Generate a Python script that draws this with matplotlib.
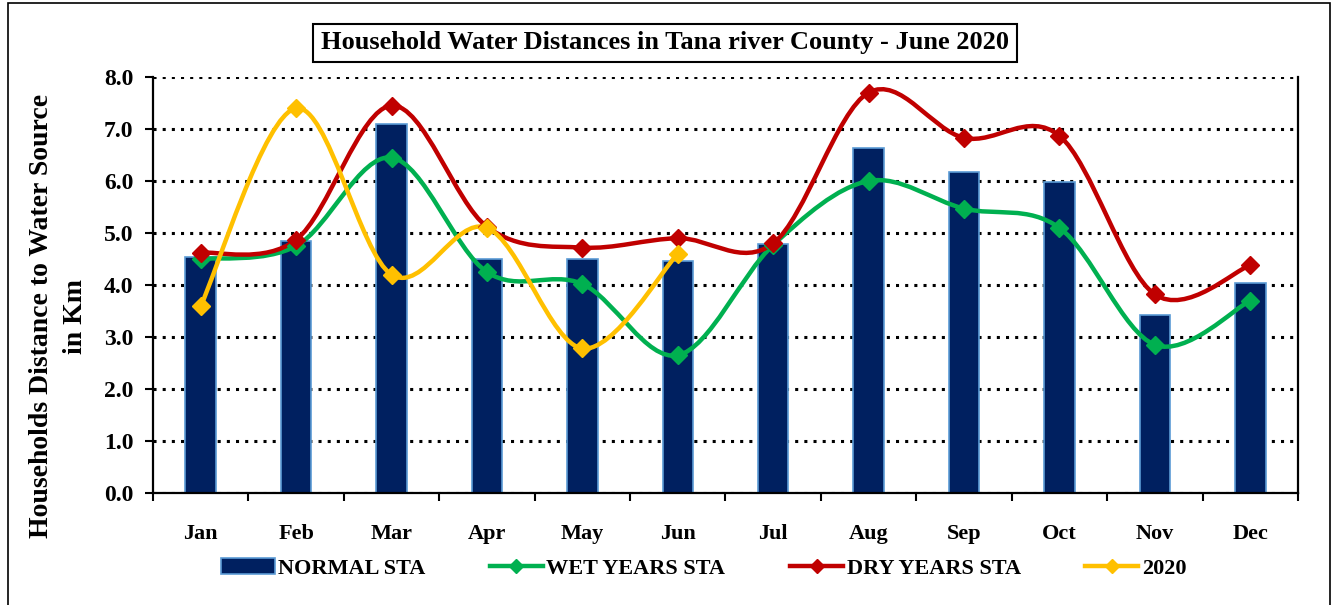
import numpy as np
import matplotlib
matplotlib.use('Agg')
import matplotlib.pyplot as plt
from matplotlib.path import Path
from matplotlib.patches import PathPatch, Rectangle
from matplotlib.lines import Line2D

# Data
months = ['Jan', 'Feb', 'Mar', 'Apr', 'May', 'Jun', 'Jul', 'Aug', 'Sep', 'Oct', 'Nov', 'Dec']
normal_sta = [4.54, 4.85, 7.10, 4.50, 4.50, 4.46, 4.79, 6.63, 6.17, 5.98, 3.42, 4.04]
wet_sta = [4.50, 4.75, 6.45, 4.25, 4.02, 2.65, 4.77, 6.00, 5.47, 5.10, 2.85, 3.70]
dry_sta = [4.62, 4.87, 7.45, 5.12, 4.72, 4.90, 4.80, 7.70, 6.83, 6.87, 3.82, 4.38]
y2020 = [3.60, 7.40, 4.20, 5.10, 2.78, 4.60]

plt.rcParams['font.family'] = ['Liberation Serif', 'DejaVu Serif']
plt.rcParams['font.weight'] = 'bold'


def smooth_path(xs, ys):
    # Excel-like smoothed line: cubic Bezier through every point
    p = np.column_stack([xs, ys]).astype(float)
    n = len(p)
    verts = [p[0]]
    codes = [Path.MOVETO]
    for i in range(n - 1):
        p0 = p[i - 1] if i > 0 else p[i]
        p3 = p[i + 2] if i + 2 < n else p[i + 1]
        c1 = p[i] + (p[i + 1] - p0) / 6.0
        c2 = p[i + 1] - (p3 - p[i]) / 6.0
        verts += [c1, c2, p[i + 1]]
        codes += [Path.CURVE4] * 3
    return Path(verts, codes)


fig = plt.figure(figsize=(13.33, 6.05), dpi=100)
ax = fig.add_axes([0.1148, 0.1851, 0.8589, 0.6876])

x = np.arange(len(months))
ax.bar(x, normal_sta, width=0.32, color='#002060', edgecolor='#5B9BD5',
       linewidth=1.2, zorder=2)

series = [(wet_sta, '#00B050'), (dry_sta, '#C00000'), (y2020, '#FFC000')]
for vals, col in series:
    xs = np.arange(len(vals))
    ax.add_patch(PathPatch(smooth_path(xs, vals), facecolor='none', edgecolor=col,
                           linewidth=3.2, zorder=3, capstyle='round'))
    ax.plot(xs, vals, linestyle='none', marker='D', markersize=9, color=col, zorder=4)

ax.set_xlim(-0.5, len(months) - 0.5)
ax.set_ylim(0, 8)
ax.set_yticks(np.arange(0, 8.1, 1.0))
ax.set_yticklabels(['%.1f' % v for v in np.arange(0, 8.1, 1.0)], fontsize=17, fontweight='bold')
ax.set_xticks(x)
ax.set_xticklabels(months, fontsize=16, fontweight='bold')
ax.tick_params(axis='x', length=0, pad=22)
ax.set_xticks(np.arange(-0.5, len(months), 1.0), minor=True)
ax.tick_params(axis='x', which='minor', length=6, width=1.5, direction='out')
ax.tick_params(axis='y', length=6, width=1.5, direction='out', pad=8)

ax.yaxis.grid(True, linestyle=(0, (1, 2)), color='black', linewidth=2.2, zorder=0)
ax.set_axisbelow(True)
ax.spines['top'].set_visible(False)
for s in ['left', 'bottom', 'right']:
    ax.spines[s].set_linewidth(1.6)

ax.set_ylabel('Households Distance to Water Source\nin Km', fontsize=20,
              fontweight='bold', linespacing=1.45)
ax.yaxis.set_label_coords(-0.057, 0.425)

fig.text(0.4989, 0.929, 'Household Water Distances in Tana river County - June 2020',
         ha='center', va='center', fontsize=19, fontweight='bold',
         bbox=dict(boxstyle='square,pad=0.3', facecolor='white', edgecolor='black', linewidth=1.5))

handles = [
    Rectangle((0, 0), 1, 1, facecolor='#002060', edgecolor='#5B9BD5', linewidth=1.2),
    Line2D([], [], color='#00B050', lw=3.2, marker='D', markersize=7),
    Line2D([], [], color='#C00000', lw=3.2, marker='D', markersize=7),
    Line2D([], [], color='#FFC000', lw=3.2, marker='D', markersize=7),
]
labels = ['NORMAL STA', 'WET YEARS STA', 'DRY YEARS STA', '2020']
fig.legend(handles, labels, loc='center', bbox_to_anchor=(0.528, 0.06), ncol=4,
           frameon=False, prop={'size': 16, 'weight': 'bold'}, handlelength=2.4,
           handletextpad=0.15, columnspacing=2.9)

# outer chart border
fig.patches.append(Rectangle((0.006, -0.02), 0.992, 1.015, transform=fig.transFigure,
                             fill=False, edgecolor='black', linewidth=1.2))

fig.savefig('out.png', dpi=100)
